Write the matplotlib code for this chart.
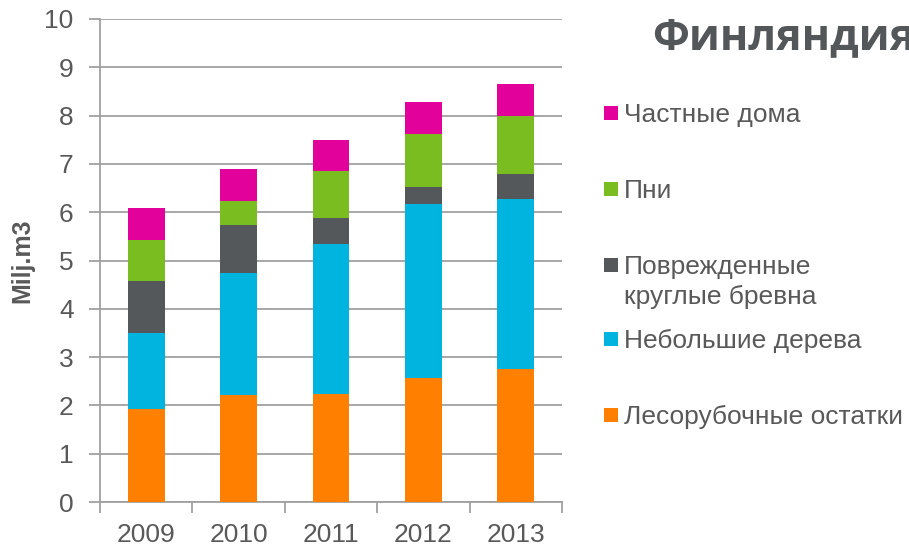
import matplotlib
matplotlib.use("Agg")
import matplotlib.pyplot as plt
from matplotlib.patches import Rectangle
import numpy as np

plt.rcParams['font.family'] = ['Liberation Sans', 'DejaVu Sans']

years = ["2009", "2010", "2011", "2012", "2013"]
series_names = ["Лесорубочные остатки", "Небольшие дерева",
                "Поврежденные\nкруглые бревна", "Пни", "Частные дома"]
residues = [1.93, 2.21, 2.23, 2.57, 2.75]
small_trees = [1.57, 2.53, 3.11, 3.59, 3.53]
damaged_logs = [1.08, 1.00, 0.53, 0.36, 0.52]
stumps = [0.84, 0.49, 0.98, 1.09, 1.19]
houses = [0.67, 0.67, 0.65, 0.67, 0.67]
colors = ["#FF8000", "#00B4E0", "#54585A", "#7ABD21", "#E2019A"]
yticks = list(range(0, 11))

text_color = "#595959"
grid_color = "#A0A0A0"

fig = plt.figure(figsize=(9.09, 5.47), dpi=100)
ax = fig.add_axes([100/909, 1-502/547, 462/909, 483/547])

x = np.arange(len(years))
bottom = np.zeros(len(years))
data = [residues, small_trees, damaged_logs, stumps, houses]
for vals, col in zip(data, colors):
    ax.bar(x, vals, width=0.4, bottom=bottom, color=col, edgecolor='none', zorder=3)
    bottom += np.array(vals)

ax.set_xlim(-0.5, len(years) - 0.5)
ax.set_ylim(0, 10)
ax.set_yticks(yticks)
ax.set_yticklabels([str(t) for t in yticks])
ax.yaxis.grid(True, color=grid_color, linewidth=1.3, zorder=0)
ax.set_axisbelow(True)

ax.set_xticks(x)
ax.set_xticklabels(years)
ax.set_xticks(np.arange(-0.5, len(years)), minor=True)
ax.tick_params(axis='x', which='major', length=0, pad=15, labelsize=19, labelcolor=text_color)
ax.tick_params(axis='x', which='minor', length=8, width=1.3, color=grid_color, direction='out')
ax.tick_params(axis='y', length=8, width=1.3, color=grid_color, labelsize=19,
               labelcolor=text_color, pad=11)

for s in ['top', 'right']:
    ax.spines[s].set_visible(False)
ax.spines['left'].set_color(grid_color)
ax.spines['bottom'].set_color(grid_color)
ax.spines['left'].set_linewidth(1.3)
ax.spines['bottom'].set_linewidth(1.3)

ax.set_ylabel("Milj.m3", fontsize=18, fontweight='bold', color=text_color)
ax.yaxis.label.set_va('center')
ax.yaxis.set_label_coords(-0.167, 0.5)

fig.text(652/909, 1-38/547, "Финляндия", fontsize=31, fontweight='bold',
         color="#53575A", va='center', ha='left', family=['Open Sans', 'DejaVu Sans'])

# Legend (drawn top to bottom, reverse stacking order)
marker_y = [415, 339, 265, 189, 113]
for name, col, yy in zip(series_names, colors, marker_y):
    fig.patches.append(Rectangle((604/909, 1-(yy+7)/547), 14/909, 14/547,
                                 transform=fig.transFigure, facecolor=col,
                                 edgecolor='none'))
    for i, line in enumerate(name.split("\n")):
        fig.text(624/909, 1-(yy + 9 + 30*i)/547, line, fontsize=19, color=text_color,
                 va='baseline', ha='left')

fig.savefig("out.png", dpi=100)
